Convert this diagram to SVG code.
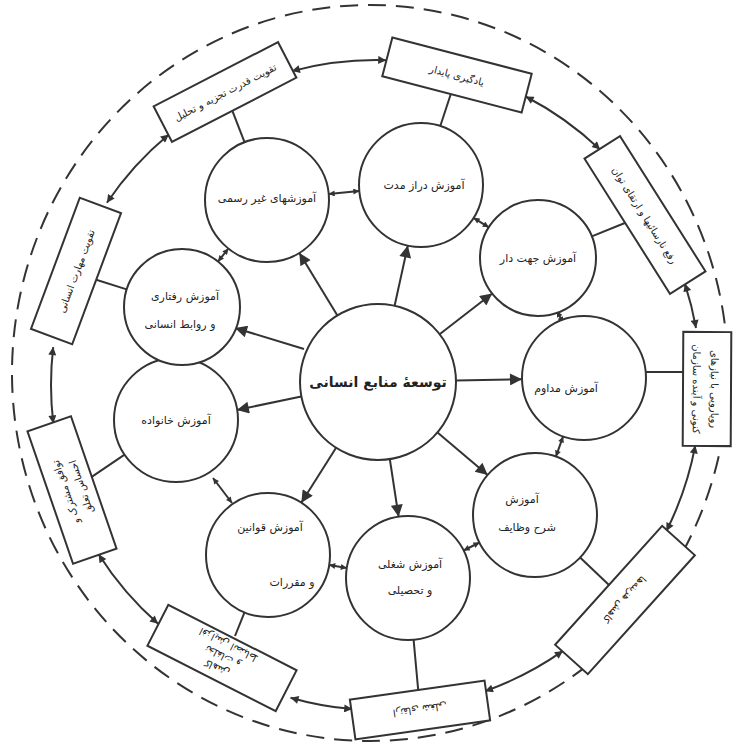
<svg xmlns="http://www.w3.org/2000/svg" width="738" height="745" viewBox="0 0 738 745">
<defs>
<marker id="ah" viewBox="0 0 10 10" refX="10" refY="5" markerWidth="15" markerHeight="12" markerUnits="userSpaceOnUse" orient="auto-start-reverse"><path d="M0,0 L10,5 L0,10 z" fill="#333"/></marker>
<marker id="am" viewBox="0 0 10 10" refX="10" refY="5" markerWidth="10" markerHeight="8" markerUnits="userSpaceOnUse" orient="auto-start-reverse"><path d="M0,0 L10,5 L0,10 z" fill="#333"/></marker>
<marker id="as" viewBox="0 0 10 10" refX="10" refY="5" markerWidth="7" markerHeight="6" markerUnits="userSpaceOnUse" orient="auto-start-reverse"><path d="M0,0 L10,5 L0,10 z" fill="#333"/></marker>
</defs>
<style>
.c{fill:#fff;stroke:#333;stroke-width:2}
.b{fill:#fff;stroke:#333;stroke-width:2}
.l{stroke:#333;stroke-width:2;fill:none}
.t{font-family:"DejaVu Sans",sans-serif;font-size:11px;fill:#222;text-anchor:middle}
.bt{font-family:"DejaVu Sans",sans-serif;font-size:10px;fill:#222;text-anchor:middle}
.ct{font-family:"DejaVu Sans",sans-serif;font-size:14px;font-weight:bold;fill:#222;text-anchor:middle}
</style>
<rect width="738" height="745" fill="#fff"/>
<ellipse cx="370" cy="373" rx="358" ry="368" fill="none" stroke="#333" stroke-width="2" stroke-dasharray="18,10"/>

<g id="connectors">
<!-- center to satellites -->
<path class="l" marker-end="url(#ah)" d="M337.4,315.4 L299.3,252.9"/>
<path class="l" marker-end="url(#ah)" d="M394.6,305.8 L407.8,245.6"/>
<path class="l" marker-end="url(#ah)" d="M439.6,334.2 L492.2,293.5"/>
<path class="l" marker-end="url(#ah)" d="M456,380.5 L522,379.2"/>
<path class="l" marker-end="url(#ah)" d="M437.5,432.4 L487.7,475"/>
<path class="l" marker-end="url(#ah)" d="M389.8,459 L398.6,516.7"/>
<path class="l" marker-end="url(#ah)" d="M336.1,447.8 L301.3,502.7"/>
<path class="l" marker-end="url(#ah)" d="M301.3,396.4 L236.9,410"/>
<path class="l" marker-end="url(#ah)" d="M304,349 L235,328"/>
<!-- satellite neighbours -->
<path class="l" marker-start="url(#as)" marker-end="url(#as)" d="M328.7,194 L359.3,191"/>
<path class="l" marker-start="url(#as)" marker-end="url(#as)" d="M473.6,217.8 L488.8,227.3"/>
<path class="l" marker-start="url(#as)" marker-end="url(#as)" d="M557,311 L563,323"/>
<path class="l" marker-start="url(#as)" marker-end="url(#as)" d="M563.1,436.4 L555.9,456.6"/>
<path class="l" marker-start="url(#as)" marker-end="url(#as)" d="M479.5,542.5 L463.6,550.5"/>
<path class="l" marker-start="url(#as)" marker-end="url(#as)" d="M346.8,568 L329.2,565"/>
<path class="l" marker-start="url(#as)" marker-end="url(#as)" d="M232,503 L213,478"/>
<path class="l" marker-start="url(#as)" marker-end="url(#as)" d="M179,365 L178,358"/>
<path class="l" marker-start="url(#as)" marker-end="url(#as)" d="M218,261.6 L228.4,248.5"/>
<!-- circles to boxes -->
<path class="l" d="M244.5,142.2 L232.3,110.6"/>
<path class="l" d="M440.3,126 L450.8,94"/>
<path class="l" d="M591.8,236.4 L625.5,222.8"/>
<path class="l" d="M645.7,372 L683,372"/>
<path class="l" d="M580.1,557.6 L609,584.9"/>
<path class="l" d="M413.6,639.8 L418.2,690"/>
<path class="l" d="M244.5,612.4 L235,636"/>
<path class="l" d="M124.6,454.6 L89.5,478.3"/>
<path class="l" d="M126.7,289.4 L93,278.7"/>
<!-- ring -->
<path class="l" marker-start="url(#am)" marker-end="url(#am)" d="M291.9,71.1 A325,325 0 0,1 386.2,60.2"/>
<path class="l" marker-start="url(#am)" marker-end="url(#am)" d="M525.6,96.5 A325,325 0 0,1 600.1,149.6"/>
<path class="l" marker-start="url(#am)" marker-end="url(#am)" d="M684.8,283.5 A325,325 0 0,1 696,328"/>
<path class="l" marker-start="url(#am)" marker-end="url(#am)" d="M695.3,445.4 A325,325 0 0,1 666.4,531"/>
<path class="l" marker-start="url(#am)" marker-end="url(#am)" d="M562.9,650.9 A325,325 0 0,1 485,691.2"/>
<path class="l" marker-start="url(#am)" marker-end="url(#am)" d="M352.2,709.1 A325,325 0 0,1 290.5,697.7"/>
<path class="l" marker-start="url(#am)" marker-end="url(#am)" d="M158.1,623.8 A325,325 0 0,1 98.6,554.3"/>
<path class="l" marker-start="url(#am)" marker-end="url(#am)" d="M53.3,423.5 A325,325 0 0,1 53.2,347.1"/>
<path class="l" marker-start="url(#am)" marker-end="url(#am)" d="M106.9,202.8 A325,325 0 0,1 168.8,134.6"/>
</g>

<g id="center"><circle class="c" cx="378" cy="382" r="78"/><text class="ct" x="378" y="387">توسعهٔ منابع انسانی</text></g>

<g id="s-ghayr"><circle class="c" cx="267" cy="200" r="62"/><text class="t" x="267" y="202">آموزشهای غیر رسمی</text></g>
<g id="s-deraz"><circle class="c" cx="421" cy="185" r="62"/><text class="t" x="424" y="189">آموزش دراز مدت</text></g>
<g id="s-jahat"><circle class="c" cx="538" cy="258" r="58"/><text class="t" x="538" y="262">آموزش جهت دار</text></g>
<g id="s-modavem"><circle class="c" cx="584" cy="378" r="62"/><text class="t" x="566" y="392">آموزش مداوم</text></g>
<g id="s-sharh"><circle class="c" cx="535" cy="515" r="62"/><text class="t" x="522" y="503">آموزش</text><text class="t" x="527" y="531">شرح وظایف</text></g>
<g id="s-shoghli"><circle class="c" cx="408" cy="578" r="62"/><text class="t" x="410" y="568">آموزش شغلی</text><text class="t" x="410" y="594">و تحصیلی</text></g>
<g id="s-ghavanin"><circle class="c" cx="268" cy="555" r="62"/><text class="t" x="270" y="531">آموزش قوانین</text><text class="t" x="292" y="586">و مقررات</text></g>
<g id="s-khanevade"><circle class="c" cx="176" cy="420" r="62"/><text class="t" x="176" y="424">آموزش خانواده</text></g>
<g id="s-raftari"><circle class="c" cx="182" cy="307" r="58"/><text class="t" x="185" y="300">آموزش رفتاری</text><text class="t" x="180" y="328">و روابط انسانی</text></g>

<g id="b1" transform="translate(225,92) rotate(-27.3)"><rect class="b" x="-70" y="-20" width="140" height="40"/><text class="bt" x="0" y="4">تقویت قدرت تجزیه و تحلیل</text></g>
<g id="b2" transform="translate(457,75) rotate(14.6)"><rect class="b" x="-72" y="-20" width="144" height="40"/><text class="bt" x="0" y="4">یادگیری پایدار</text></g>
<g id="b3" transform="translate(645,215) rotate(57.7)"><rect class="b" x="-80" y="-21" width="160" height="42"/><text class="bt" x="0" y="4">رفع نارسائیها و ارتقای توان</text></g>
<g id="b4" transform="translate(707,389) rotate(90.3)"><rect class="b" x="-57" y="-24" width="114" height="48"/><text class="bt" x="0" y="-4">رویارویی با نیازهای</text><text class="bt" x="0" y="14">کنونی و آینده سازمان</text></g>
<g id="b5" transform="translate(625,600) rotate(132)"><rect class="b" x="-80" y="-22" width="160" height="44"/><text class="bt" x="0" y="4">کاهش هزینه‌ها</text></g>
<g id="b6" transform="translate(420,710) rotate(172)"><rect class="b" x="-68" y="-20" width="136" height="40"/><text class="bt" x="0" y="4">ارتقای شغلی</text></g>
<g id="b7" transform="translate(222,658) rotate(207)"><rect class="b" x="-72" y="-23" width="144" height="46"/><text class="bt" x="0" y="-8">کاهش</text><text class="bt" x="0" y="5">تخلفات و</text><text class="bt" x="0" y="18">افزایش انضباط</text></g>
<g id="b8" transform="translate(72,490) rotate(251)"><rect class="b" x="-70" y="-23" width="140" height="46"/><text class="bt" x="0" y="-3">توافق مشترک و</text><text class="bt" x="0" y="13">احساس تعلق</text></g>
<g id="b9" transform="translate(76,271) rotate(-69.6)"><rect class="b" x="-70" y="-22" width="140" height="44"/><text class="bt" x="0" y="4">تقویت مهارت انسانی</text></g>
</svg>
